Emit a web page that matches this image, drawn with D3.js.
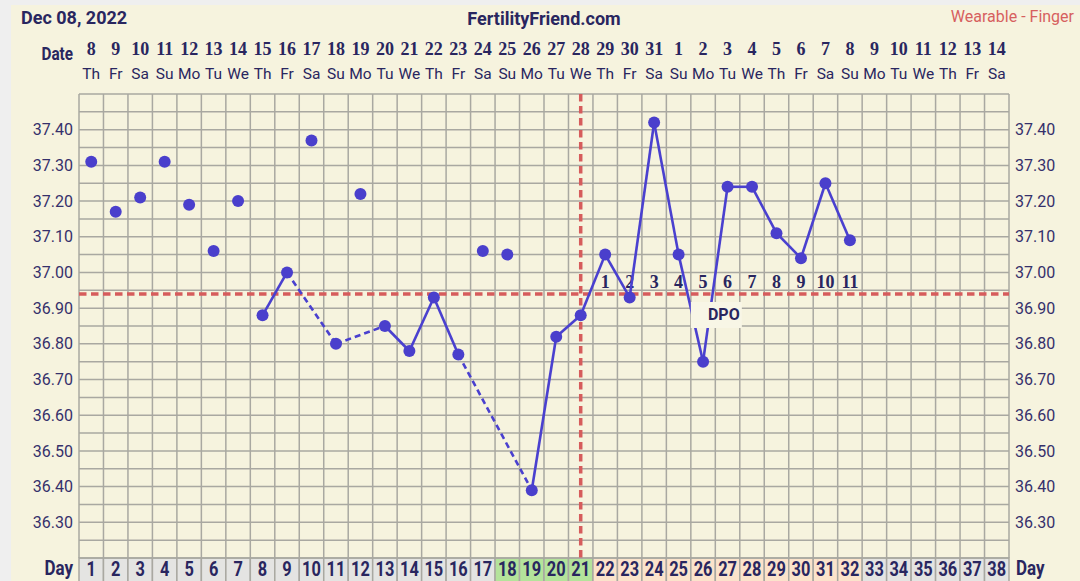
<!DOCTYPE html>
<html><head><meta charset="utf-8">
<script src="https://cdn.jsdelivr.net/npm/d3@7"></script>
<style>
html,body{margin:0;padding:0;background:#efefef;}
svg{display:block;}
</style></head>
<body>
<svg id="c" width="1080" height="581"></svg>
<script>
// ---- data ----
const cycleDays = d3.range(1, 39);
const dateLabels = ["8","9","10","11","12","13","14","15","16","17","18","19","20","21","22","23","24","25","26","27","28","29","30","31","1","2","3","4","5","6","7","8","9","10","11","12","13","14"];
const weekdayLabels = ["Th","Fr","Sa","Su","Mo","Tu","We","Th","Fr","Sa","Su","Mo","Tu","We","Th","Fr","Sa","Su","Mo","Tu","We","Th","Fr","Sa","Su","Mo","Tu","We","Th","Fr","Sa","Su","Mo","Tu","We","Th","Fr","Sa"];
const tempDays = d3.range(1, 33);
const temps = [37.31,37.17,37.21,37.31,37.19,37.06,37.20,36.88,37.00,37.37,36.80,37.22,36.85,36.78,36.93,36.77,37.06,37.05,36.39,36.82,36.88,37.05,36.93,37.42,37.05,36.75,37.24,37.24,37.11,37.04,37.25,37.09];
const excludedDays = [1,2,3,4,5,6,7,10,12,17,18];
const fertileDays = [18,19,20,21];
const lutealDays = [22,23,24,25,26,27,28,29,30,31,32];
const dpoLabels = ["1","2","3","4","5","6","7","8","9","10","11"];
const ovulationDay = 21;
const coverline = 36.94;
const yTicks = [36.3,36.4,36.5,36.6,36.7,36.8,36.9,37.0,37.1,37.2,37.3,37.4];

// ---- layout ----
const svg = d3.select("#c");
const navy = "#29265f";
const gLeft = 79, gRight = 1009, gTop = 94, gBottom = 558;

svg.append("rect").attr("x",11).attr("y",5).attr("width",1069).attr("height",576).attr("fill","#f6f3de");

const x = d3.scaleBand().domain(cycleDays).range([gLeft, gRight]).paddingInner(0).paddingOuter(0);
const xc = d => x(d) + x.bandwidth()/2;
const y = d3.scaleLinear().domain([36.2, 37.5]).range([gBottom, gTop]);

// day row backgrounds
const dayRow = svg.append("g");
dayRow.selectAll("rect").data(cycleDays).join("rect")
  .attr("x", d => x(d)).attr("y", gBottom).attr("width", x.bandwidth()).attr("height", 30)
  .attr("fill", d => fertileDays.includes(d) ? "#b4e39b" : (lutealDays.includes(d) ? "#fbe3cb" : "#e4e4e2"))
  .attr("stroke", "#a9a8a1").attr("stroke-width", 1.5);
dayRow.selectAll("text").data(cycleDays).join("text")
  .attr("transform", d => `translate(${xc(d)},576) scale(0.82,1)`).attr("text-anchor","middle")
  .attr("font-family","Roboto,sans-serif").attr("font-weight","bold")
  .attr("font-size", 20).attr("fill", navy).text(d => d);

// grid
const grid = svg.append("g").attr("stroke","#a9a8a1").attr("stroke-width",1.5);
const hVals = d3.range(0, 27).map(i => +(36.2 + i*0.05).toFixed(2));
grid.selectAll("line.h").data(hVals).join("line").attr("class","h")
  .attr("x1", gLeft).attr("x2", gRight).attr("y1", d => y(d)).attr("y2", d => y(d));
const vEdges = cycleDays.map(d => x(d)).concat([gRight]);
grid.selectAll("line.v").data(vEdges).join("line").attr("class","v")
  .attr("x1", d => d).attr("x2", d => d).attr("y1", gTop).attr("y2", gBottom);

// y axis labels via d3 axes
const fmt = d3.format(".2f");
const axL = svg.append("g").attr("transform", `translate(${gLeft-6},0)`)
  .call(d3.axisLeft(y).tickValues(yTicks).tickFormat(fmt).tickSize(0).tickPadding(0));
const axR = svg.append("g").attr("transform", `translate(${gRight+6},0)`)
  .call(d3.axisRight(y).tickValues(yTicks).tickFormat(fmt).tickSize(0).tickPadding(0));
[axL, axR].forEach(a => {
  a.select(".domain").remove();
  a.selectAll("text").attr("font-family","Roboto, sans-serif").attr("font-size",16).attr("fill","#35306b");
});

// header
svg.append("text").attr("x",21).attr("y",24).attr("font-family","Roboto, sans-serif").attr("font-weight","bold")
  .attr("font-size",18).attr("fill",navy).text("Dec 08, 2022");
svg.append("text").attr("x",544).attr("y",25).attr("text-anchor","middle").attr("font-family","Roboto, sans-serif").attr("font-weight","bold")
  .attr("font-size",18).attr("fill",navy).text("FertilityFriend.com");
svg.append("text").attr("x",1074).attr("y",22).attr("text-anchor","end").attr("font-family","Roboto, sans-serif")
  .attr("font-size",16).attr("fill","#d6605e").text("Wearable - Finger");
svg.append("text").attr("transform","translate(73,60) scale(0.85,1)").attr("text-anchor","end").attr("font-family","Roboto, sans-serif").attr("font-weight","bold")
  .attr("font-size",18).attr("fill",navy).text("Date");
svg.append("text").attr("transform","translate(73,575) scale(0.85,1)").attr("text-anchor","end").attr("font-family","Roboto, sans-serif").attr("font-weight","bold")
  .attr("font-size",20).attr("fill",navy).text("Day");
svg.append("text").attr("transform","translate(1016,575) scale(0.85,1)").attr("font-family","Roboto, sans-serif").attr("font-weight","bold")
  .attr("font-size",20).attr("fill",navy).text("Day");

svg.append("g").selectAll("text").data(cycleDays).join("text")
  .attr("x", d => xc(d)).attr("y", 55).attr("text-anchor","middle")
  .attr("font-family","'Liberation Serif',serif").attr("font-weight","bold").attr("font-size",18).attr("fill",navy)
  .text((d,i) => dateLabels[i]);
svg.append("g").selectAll("text").data(cycleDays).join("text")
  .attr("x", d => xc(d)).attr("y", 79).attr("text-anchor","middle")
  .attr("font-family","Roboto, sans-serif").attr("font-size",15.5).attr("fill",navy)
  .text((d,i) => weekdayLabels[i]);

// coverline & ovulation line
const red = "#d65c5c";
svg.append("line").attr("x1",gLeft).attr("x2",gRight).attr("y1",y(coverline)).attr("y2",y(coverline))
  .attr("stroke",red).attr("stroke-width",3.5).attr("stroke-dasharray","7.5,4.5");
svg.append("line").attr("x1",xc(ovulationDay)).attr("x2",xc(ovulationDay)).attr("y1",gTop).attr("y2",gBottom)
  .attr("stroke",red).attr("stroke-width",3.5).attr("stroke-dasharray","7.5,4.5");

// DPO numbers
svg.append("g").selectAll("text").data(lutealDays).join("text")
  .attr("x", d => xc(d)).attr("y", 288).attr("text-anchor","middle")
  .attr("font-family","'Liberation Serif',serif").attr("font-weight","bold").attr("font-size",18).attr("fill",navy)
  .text((d,i) => dpoLabels[i]);

// temperature lines
const pts = tempDays.map((d,i) => ({day:d, t:temps[i]}));
const used = pts.filter(p => !excludedDays.includes(p.day));
const segs = d3.pairs(used);
const lineColor = "#4a40cf";
svg.append("g").selectAll("line").data(segs).join("line")
  .attr("x1", s => xc(s[0].day)).attr("y1", s => y(s[0].t))
  .attr("x2", s => xc(s[1].day)).attr("y2", s => y(s[1].t))
  .attr("stroke", lineColor).attr("stroke-width", 2.6)
  .attr("stroke-dasharray", s => (s[1].day - s[0].day > 1) ? "6,4" : null);

// DPO box
const bx = x(26);
svg.append("rect").attr("x", bx).attr("y", 302).attr("width", 51).attr("height", 26).attr("fill", "#f8f6e6");
svg.append("text").attr("x", bx + 33).attr("y", 320).attr("text-anchor","middle")
  .attr("font-family","Roboto, sans-serif").attr("font-weight","bold").attr("font-size",16).attr("fill",navy).text("DPO");

// dots
svg.append("g").selectAll("circle").data(pts).join("circle")
  .attr("cx", p => xc(p.day)).attr("cy", p => y(p.t)).attr("r", 6).attr("fill", "#4a3fcc");
</script>
</body></html>
